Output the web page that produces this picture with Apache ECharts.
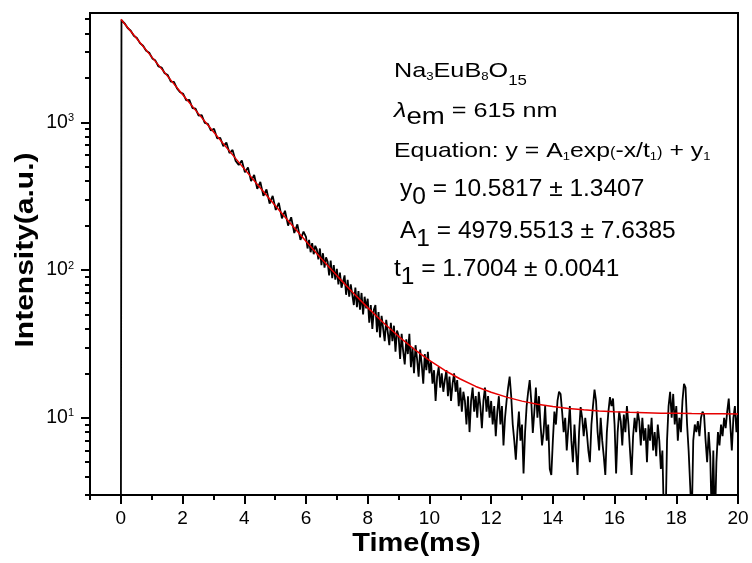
<!DOCTYPE html>
<html>
<head>
<meta charset="utf-8">
<script src="https://cdn.jsdelivr.net/npm/echarts@6/dist/echarts.min.js"></script>
<style>
html,body{margin:0;padding:0;background:#fff;}
#chart{width:752px;height:563px;}
</style>
</head>
<body>
<div id="chart"></div>
<script>
// ---------------- DATA ----------------
// Onset of the excitation pulse (value below the visible axis range)
const timeOnset = [0];
const intensityOnset = [1];

// Measured decay, early part: sampled every 0.1 ms starting at 0.02 ms
const earlyStartMs = 0.02;
const earlyStepMs = 0.1;
const intensityEarly = [
  4930,4680,4350,4170,3860,3720,3440,3300,3050,2960,
  2710,2620,2390,2350,2150,2090,1890,1880,1700,1600,
  1560,1410,1420,1250,1240,1110,1120,990,975,880,
  905,780,785,690,730,620,650,548,515,552,
  460,495,400,440,355,395,318,352,282,318,
  255,285,224,252,200,228,178,204,160,182
];

// Measured decay, late part: sampled every 0.05 ms from 6 ms to 20 ms
const lateStartMs = 6.0;
const lateStepMs = 0.05;
const intensityLate = [
  168,140,160,132,152,128,146,138,118,140,108,130,104,122,114,92,116,88,108,86,
  102,80,96,76,74,92,68,86,66,80,82,58,76,56,72,54,70,50,66,55,
  64,44,58,40,54,58,38,52,35,49,50,33,46,38,31,44,33,42,28,39,
  36,25,37,28,23,34,27,37,22,30,20,31,25,19,29,23,17,27,21,28,
  20,24,17,21,13,19,22,16,20,15,18,21,14,19,13,17,20,15,18,12,
  16,11,15,13,9,14,8,13,16,11,14,10,15,12,8.5,13,16,11,14,10,
  13,9,12,7.5,11,14,9,12,6.5,10,13,16,19,14,9,7,5.2,8,11,7,
  9,4.2,8,12,15,18,13,7.9,11,16,10,14,9,6.5,8,12,7,9,4.5,4.1,
  7,11,9,13,15,14.5,11,8,10,6,8.5,12,7,5,9,6,4.1,8,11.8,10,
  7.5,10,8,6,5,9,12,15.5,13,8,6,10,7,5.5,4.1,8,11,13.8,12,13.5,
  9,4.2,8,11,9.5,6.5,10.5,8,12,9,6,4.1,7.5,10,8,11,9.5,6.5,10,7,
  8.5,5,9,7,10,6,8,5.5,9,7,4.5,6,2,1.8,7,12,15,10,14.5,9,
  12,7,10,8,13,17,16,9,6,3.5,2,7,9,8,9.5,7.5,10,11,10.5,7,
  5,8,5.5,2,6,1.8,5,8,6.5,9,7.5,10,8.5,11,13.5,9,6,10,12,8,11
];

// Fitted curve (red)
const fitTime = [0,0.5,1,1.5,2,2.5,3,3.5,4,4.5,5,5.5,6,6.5,7,7.5,8,8.5,9,9.5,10,
  10.5,11,11.5,12,12.5,13,13.5,14,14.5,15,15.5,16,16.5,17,17.5,18,18.5,19,19.5,20];
const fitIntensity = [4990,3722,2776,2072,1546,1155,863.5,646.2,484.3,363.6,273.7,
  206.6,156.7,119.5,91.7,71.1,55.7,44.2,35.6,29.2,24.5,20.9,18.3,16.3,14.9,13.8,
  12.96,12.35,11.9,11.57,11.32,11.13,10.99,10.88,10.81,10.75,10.71,10.67,10.65,10.63,10.62];

// Axis ticks
const xMajorTicks = [0,2,4,6,8,10,12,14,16,18,20];
const xMinorTicks = [-1,1,3,5,7,9,11,13,15,17,19];
const yMajorTicks = [10,100,1000];
const yMinorTicks = [3,4,5,6,7,8,9,20,30,40,50,60,70,80,90,200,300,400,500,600,700,800,900,2000,3000,4000,5000];

// Text
const xTitle = 'Time(ms)';
const yTitle = 'Intensity(a.u.)';

// ---------------- BUILD ----------------
const FONT = '"Liberation Sans", Arial, sans-serif';
const decayData = [];
timeOnset.forEach((t, i) => decayData.push([t, intensityOnset[i]]));
intensityEarly.forEach((v, i) => decayData.push([+(earlyStartMs + i * earlyStepMs).toFixed(3), v]));
intensityLate.forEach((v, i) => decayData.push([+(lateStartMs + i * lateStepMs).toFixed(3), v]));
const fitData = fitTime.map((t, i) => [t, fitIntensity[i]]);

const chart = echarts.init(document.getElementById('chart'), null, {renderer: 'canvas'});

function tok(size, padTop, italic) {
  return {font: (italic ? 'italic ' : '') + size + 'px ' + FONT, fill: '#000',
          verticalAlign: 'top', padding: [padTop, 0, 0, 0]};
}

const richSmall = {
  m: tok(21, 0), l: tok(21, 0, true),
  s: tok(11, 10.8), t: tok(14, 13.3), e: tok(23, 6.1), p: tok(14, 6)
};
const richBig = { m: tok(24.5, 0), b: tok(24.5, 8) };

const annotations = [
  {x: 394, y: 60.5, sx: 1.2, rich: richSmall, text: '{m|Na}{s|3}{m|EuB}{s|8}{m|O}{t|15}'},
  {x: 394, y: 100.5, sx: 1.2, rich: richSmall, text: '{l|λ}{e|em}{m| = 615 nm}'},
  {x: 394, y: 140.5, sx: 1.18, rich: richSmall, text: '{m|Equation: y = A}{s|1}{m|exp}{p|(}{m|-x/t}{s|1}{p|)}{m| + y}{s|1}'},
  {x: 400, y: 176.5, sx: 1, rich: richBig, text: '{m|y}{b|0}{m| = 10.5817 ± 1.3407}'},
  {x: 400, y: 218.5, sx: 1, rich: richBig, text: '{m|A}{b|1}{m| = 4979.5513 ± 7.6385}'},
  {x: 394, y: 256.5, sx: 1, rich: richBig, text: '{m|t}{b|1}{m| = 1.7004 ± 0.0041}'}
];

const graphics = annotations.map(a => ({
  type: 'text', x: a.x, y: a.y, scaleX: a.sx, z: 20,
  style: {text: a.text, rich: a.rich, align: 'left', verticalAlign: 'top', fill: '#000', font: '21px ' + FONT}
}));
graphics.push({
  type: 'text', x: 416.5, y: 544, scaleX: 1.16, z: 20,
  style: {text: xTitle, font: 'bold 25px ' + FONT, fill: '#000', align: 'center', verticalAlign: 'middle'}
});
graphics.push({
  type: 'text', x: 26, y: 250, scaleX: 1.2, rotation: Math.PI / 2, z: 20,
  style: {text: yTitle, font: 'bold 25px ' + FONT, fill: '#000', align: 'center', verticalAlign: 'middle'}
});

const axisLineStyle = {color: '#000', width: 2};

const option = {
  animation: false,
  backgroundColor: '#fff',
  grid: {left: 90, right: 14, top: 13, bottom: 68, show: true, borderColor: '#000', borderWidth: 2, backgroundColor: 'transparent', containLabel: false},
  xAxis: [
    {
      type: 'value', min: -1, max: 20, position: 'bottom',
      axisLine: {show: true, onZero: false, lineStyle: axisLineStyle},
      axisTick: {show: true, inside: false, length: 9, lineStyle: axisLineStyle, customValues: xMajorTicks},
      axisLabel: {show: true, customValues: xMajorTicks, margin: 14, fontSize: 19, color: '#000', fontFamily: FONT},
      splitLine: {show: false}, minorTick: {show: false}
    },
    {
      type: 'value', min: -1, max: 20, position: 'bottom',
      axisLine: {show: false, onZero: false},
      axisTick: {show: true, inside: false, length: 5, lineStyle: axisLineStyle, customValues: xMinorTicks},
      axisLabel: {show: false}, splitLine: {show: false}
    }
  ],
  yAxis: [
    {
      type: 'log', logBase: 10, min: 3, max: 5500, position: 'left',
      axisLine: {show: true, onZero: false, lineStyle: axisLineStyle},
      axisTick: {show: true, inside: false, length: 9, lineStyle: axisLineStyle, customValues: yMajorTicks},
      axisLabel: {
        show: true, customValues: yMajorTicks, margin: 16, color: '#000', fontSize: 19, fontFamily: FONT,
        formatter: v => '{b|10}{e|' + Math.round(Math.log10(v)) + '}',
        rich: {
          b: {fontSize: 19.5, fontFamily: FONT, color: '#000', verticalAlign: 'top'},
          e: {fontSize: 11, fontFamily: FONT, color: '#000', verticalAlign: 'top'}
        }
      },
      splitLine: {show: false}
    },
    {
      type: 'log', logBase: 10, min: 3, max: 5500, position: 'left',
      axisLine: {show: false, onZero: false},
      axisTick: {show: true, inside: false, length: 5, lineStyle: axisLineStyle, customValues: yMinorTicks},
      axisLabel: {show: false}, splitLine: {show: false}
    }
  ],
  series: [
    {
      type: 'line', xAxisIndex: 0, yAxisIndex: 0, data: decayData,
      symbol: 'none', showSymbol: false, clip: true, silent: true, z: 2,
      lineStyle: {color: '#000', width: 1.8}
    },
    {
      type: 'line', xAxisIndex: 0, yAxisIndex: 0, data: fitData,
      symbol: 'none', showSymbol: false, clip: true, silent: true, z: 3,
      lineStyle: {color: '#e60000', width: 1.5}
    }
  ],
  graphic: graphics
};

chart.setOption(option);
</script>
</body>
</html>
